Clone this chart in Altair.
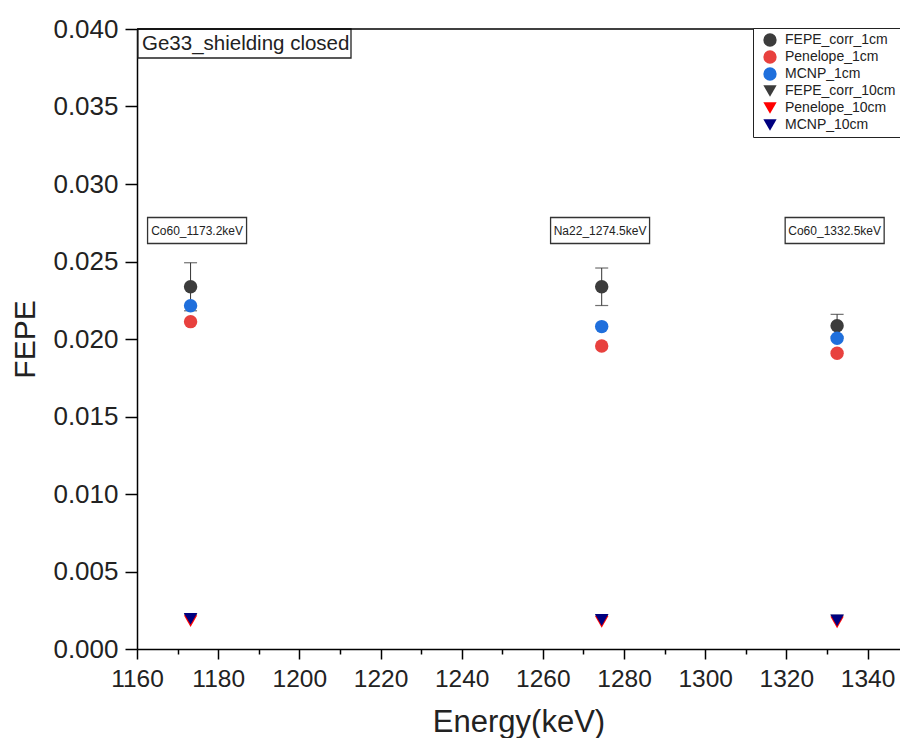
import altair as alt
import pandas as pd

# ---------------- data ----------------
energies = [1173.2, 1274.5, 1332.5]
fepe_corr_1cm = [0.02337, 0.02337, 0.02086]
fepe_corr_1cm_err = [0.00155, 0.00121, 0.00073]
penelope_1cm = [0.02112, 0.01955, 0.01908]
mcnp_1cm = [0.02215, 0.02080, 0.02005]
fepe_corr_10cm = [0.00192, 0.00185, 0.00183]
penelope_10cm = [0.00180, 0.00175, 0.00172]
mcnp_10cm = [0.00195, 0.00188, 0.00185]

series_names = ["FEPE_corr_1cm", "Penelope_1cm", "MCNP_1cm",
                "FEPE_corr_10cm", "Penelope_10cm", "MCNP_10cm"]
series_values = [fepe_corr_1cm, penelope_1cm, mcnp_1cm,
                 fepe_corr_10cm, penelope_10cm, mcnp_10cm]
series_colors = ["#3c3c3c", "#e8413e", "#1f6fdc", "#3c3c3c", "#ff0000", "#00007f"]
series_shapes = ["circle", "circle", "circle",
                 "triangle-down", "triangle-down", "triangle-down"]

peak_labels = ["Co60_1173.2keV", "Na22_1274.5keV", "Co60_1332.5keV"]
peak_label_x = [1174.8, 1274.1, 1331.9]
peak_label_y = [0.0270, 0.0270, 0.0270]
panel_title = "Ge33_shielding closed"

x_ticks = [1160, 1170, 1180, 1190, 1200, 1210, 1220, 1230, 1240, 1250,
           1260, 1270, 1280, 1290, 1300, 1310, 1320, 1330, 1340]
y_ticks = [0.0, 0.0025, 0.005, 0.0075, 0.01, 0.0125, 0.015, 0.0175, 0.02,
           0.0225, 0.025, 0.0275, 0.03, 0.0325, 0.035, 0.0375, 0.04]

FONT = "Liberation Sans"
W, H = 763, 620

# ---------------- tables ----------------
rows = []
for k, (name, vals) in enumerate(zip(series_names, series_values)):
    for e, v in zip(energies, vals):
        rows.append({"energy": e, "value": v, "series": name, "order": k})
points_df = pd.DataFrame(rows)

err_df = pd.DataFrame({
    "energy": energies,
    "lo": [v - d for v, d in zip(fepe_corr_1cm, fepe_corr_1cm_err)],
    "hi": [v + d for v, d in zip(fepe_corr_1cm, fepe_corr_1cm_err)],
})
cap_df = pd.DataFrame({
    "energy": energies + energies,
    "cap": list(err_df["lo"]) + list(err_df["hi"]),
})
label_df = pd.DataFrame({"label": peak_labels, "x": peak_label_x, "y": peak_label_y})
title_df = pd.DataFrame({"t": [panel_title]})

# ---------------- scales / axes ----------------
x_scale = alt.Scale(domain=[1160, 1348], nice=False, zero=False)
y_scale = alt.Scale(domain=[0, 0.04], nice=False, zero=False)

x_axis = alt.Axis(
    values=x_ticks,
    labelExpr="datum.value % 20 === 0 ? format(datum.value, 'd') : ''",
    tickSize={"condition": {"test": "datum.value % 20 === 0", "value": 10}, "value": 5},
    tickColor="black", tickWidth=1.5, domainColor="black", domainWidth=1.5,
    labelFont=FONT, labelFontSize=24.5, labelColor="#222222", labelPadding=8,
    labelOverlap=False, labelFlush=False,
    title="Energy(keV)", titleFont=FONT, titleFontSize=31, titleFontWeight="normal",
    titleColor="#222222", titlePadding=17, grid=False,
)
y_axis = alt.Axis(
    values=y_ticks,
    labelExpr="round(datum.value*10000) % 50 === 0 ? format(datum.value, '.3f') : ''",
    tickSize={"condition": {"test": "round(datum.value*10000) % 50 === 0", "value": 12},
              "value": 5},
    tickColor="black", tickWidth=1.5, domainColor="black", domainWidth=1.5,
    labelFont=FONT, labelFontSize=26, labelColor="#222222", labelPadding=7,
    labelOverlap=False, labelFlush=False,
    title="FEPE", titleFont=FONT, titleFontSize=30, titleFontWeight="normal",
    titleColor="#222222", titlePadding=12, grid=False,
)

X = alt.X("energy:Q", scale=x_scale, axis=x_axis)

# ---------------- layers ----------------
top_frame = alt.Chart(title_df).mark_rule(color="black", strokeWidth=1.5).encode(
    x=alt.value(0), x2=alt.value(W), y=alt.value(0))

err_rule = alt.Chart(err_df).mark_rule(color="#333333", strokeWidth=1).encode(
    x=X, y=alt.Y("lo:Q", scale=y_scale, axis=y_axis), y2="hi:Q")

err_caps = alt.Chart(cap_df).mark_tick(
    orient="horizontal", size=13, thickness=1.2, color="#333333").encode(
    x=alt.X("energy:Q", scale=x_scale), y=alt.Y("cap:Q", scale=y_scale))

pts = alt.Chart(points_df).mark_point(
    filled=True, size=180, opacity=1, strokeWidth=0).encode(
    x=alt.X("energy:Q", scale=x_scale),
    y=alt.Y("value:Q", scale=y_scale),
    color=alt.Color("series:N", scale=alt.Scale(domain=series_names, range=series_colors),
                    legend=alt.Legend(title=None)),
    shape=alt.Shape("series:N", scale=alt.Scale(domain=series_names, range=series_shapes),
                    legend=alt.Legend(title=None)),
    order=alt.Order("order:Q"),
)

label_box = alt.Chart(label_df).mark_rect(
    width=99, height=26, fill="white", stroke="#333333", strokeWidth=1.3).encode(
    x=alt.X("x:Q", scale=x_scale), y=alt.Y("y:Q", scale=y_scale))
label_txt = alt.Chart(label_df).mark_text(
    font=FONT, fontSize=12, color="#222222", align="center", baseline="middle").encode(
    x=alt.X("x:Q", scale=x_scale), y=alt.Y("y:Q", scale=y_scale), text="label:N")

title_box = alt.Chart(title_df).mark_rect(
    fill="white", stroke="#222222", strokeWidth=1.3).encode(
    x=alt.value(1), x2=alt.value(214), y=alt.value(0), y2=alt.value(29))
title_txt = alt.Chart(title_df).mark_text(
    font=FONT, fontSize=20.5, color="#222222", align="left", baseline="middle").encode(
    x=alt.value(5), y=alt.value(15), text="t:N")

chart = alt.layer(
    err_rule, err_caps, pts, label_box, label_txt, title_box, title_txt, top_frame
).properties(
    width=W, height=H,
    autosize=alt.AutoSizeParams(type="none"),
    padding={"left": 129, "top": 21, "right": 0, "bottom": 89},
).configure_view(
    strokeWidth=0
).configure_legend(
    orient="none", legendX=616, legendY=-1,
    strokeColor="#222222", fillColor="white", padding=5, symbolOffset=5,
    labelFont=FONT, labelFontSize=14, labelColor="#222222",
    symbolSize=177, rowPadding=3, symbolStrokeWidth=0, labelOffset=8,
)

chart.save("out.html", embed_options={"renderer": "svg", "actions": False})
